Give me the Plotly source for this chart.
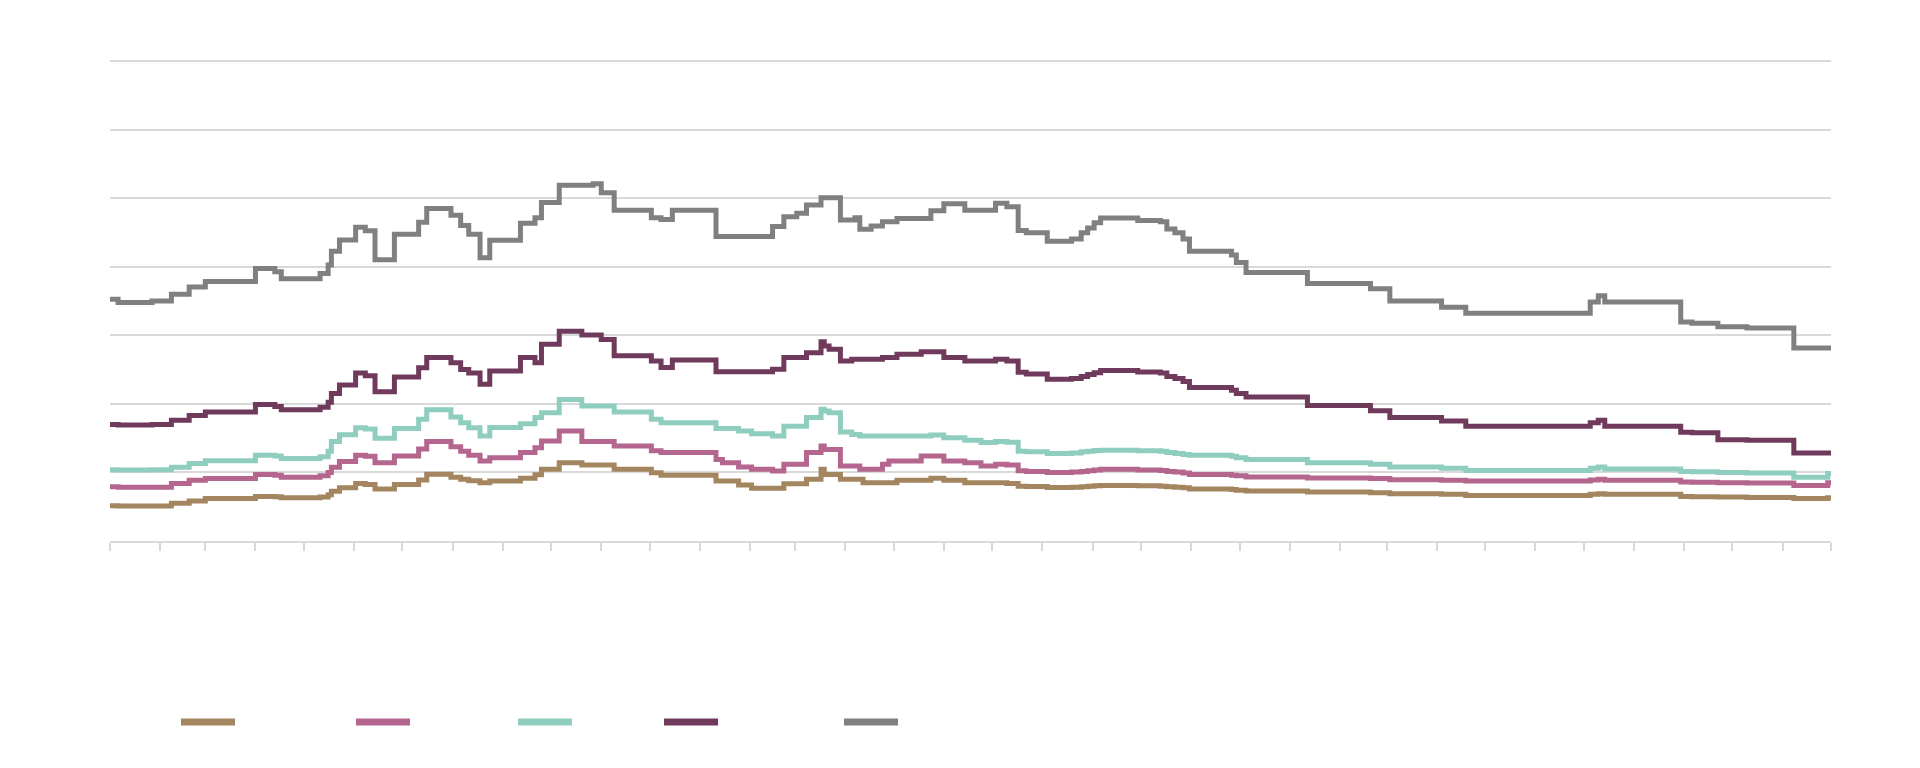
import plotly.graph_objects as go

# dates on which any tranche spread changed (bps, step series)
dates = [
    "2021-12-31", "2022-01-06", "2022-01-27", "2022-02-08", "2022-02-19", "2022-03-01",
    "2022-04-01", "2022-04-13", "2022-04-17", "2022-05-11", "2022-05-16", "2022-05-18",
    "2022-05-23", "2022-06-02", "2022-06-08", "2022-06-14", "2022-06-26", "2022-07-11",
    "2022-07-16", "2022-07-31", "2022-08-06", "2022-08-11", "2022-08-18",
    "2022-08-24", "2022-09-12", "2022-09-21", "2022-09-25", "2022-10-06", "2022-10-20",
    "2022-10-27", "2022-11-01", "2022-11-09", "2022-12-02", "2022-12-08", "2022-12-15",
    "2023-01-11", "2023-01-15", "2023-01-25", "2023-02-02", "2023-02-15", "2023-02-22",
    "2023-03-02", "2023-03-08", "2023-03-17", "2023-03-19", "2023-03-22", "2023-03-29",
    "2023-04-05", "2023-04-07", "2023-04-10", "2023-04-12", "2023-04-17", "2023-04-24",
    "2023-04-28", "2023-05-03", "2023-05-18", "2023-05-24", "2023-06-01", "2023-06-14",
    "2023-06-24", "2023-07-03", "2023-07-10", "2023-07-17", "2023-07-22", "2023-08-04",
    "2023-08-19", "2023-08-25", "2023-08-29", "2023-09-02", "2023-09-06", "2023-09-29",
    "2023-10-13", "2023-10-17", "2023-10-22", "2023-10-27", "2023-10-31", "2023-11-26",
    "2023-11-29", "2023-12-05", "2024-01-12", "2024-02-20", "2024-03-03", "2024-04-04",
    "2024-04-19", "2024-07-05", "2024-07-10", "2024-07-14", "2024-08-30", "2024-09-06",
    "2024-09-22", "2024-10-10", "2024-11-08", "2024-11-29", "2024-12-06",
]

bb = [
    705, 696, 700, 720, 741, 757,
    795, 785, 765, 780, 805, 845,
    878, 915, 905, 820, 895, 930,
    970, 950, 920, 895, 826,
    877, 927, 943, 987, 1038, 1038,
    1042, 1016, 965, 943, 938, 965,
    888, 888, 888, 888, 917, 946,
    956, 980, 1001, 1001, 1001, 936,
    936, 943, 909, 909, 919, 931,
    931, 941, 941, 963, 984, 965,
    965, 985, 975, 906, 899, 874,
    881, 899, 913, 928, 942, 935,
    931, 910, 899, 881, 845, 834,
    812, 783, 751, 736, 700, 682,
    664, 697, 715, 697, 639, 635,
    625, 621, 563, 563, 563,
]

bbb = [
    340, 338, 340, 352, 366, 376,
    398, 392, 383, 390, 405, 430,
    455, 490, 482, 435, 478, 505,
    535, 520, 500, 490, 457,
    496, 535, 520, 574, 612, 601,
    601, 588, 540, 525, 506, 528,
    494, 494, 494, 494, 501, 535,
    535, 549, 581, 569, 559, 525,
    530, 530, 530, 530, 530, 535,
    535, 545, 552, 552, 535, 525,
    525, 530, 525, 492, 487, 472,
    474, 480, 486, 491, 497, 493,
    490, 480, 474, 465, 448, 440,
    430, 420, 395, 380, 360, 350,
    335, 345, 352, 335, 317, 316,
    295, 294, 257, 257, 257,
]

a = [
    208, 207, 208, 215, 226, 234,
    250, 248, 241, 246, 262, 290,
    310, 330, 327, 300, 328, 355,
    383, 362, 345, 330, 306,
    331, 342, 360, 374, 413, 394,
    394, 394, 376, 355, 345, 345,
    328, 328, 321, 313, 306, 335,
    335, 360, 384, 379, 374, 318,
    311, 311, 306, 306, 306, 306,
    306, 306, 306, 309, 301, 294,
    287, 290, 288, 262, 260, 255,
    257, 260, 262, 264, 265, 263,
    262, 258, 255, 252, 250, 247,
    243, 238, 228, 224, 216, 212,
    206, 212, 216, 210, 203, 202,
    200, 198, 186, 197, 197,
]

aa = [
    158, 157, 157, 168, 177, 182,
    194, 192, 186, 190, 200, 215,
    232, 250, 247, 228, 248, 268,
    290, 275, 262, 250, 233,
    243, 258, 272, 292, 321, 290,
    290, 290, 277, 263, 258, 258,
    238, 228, 216, 209, 204, 224,
    224, 258, 277, 267, 267, 219,
    219, 219, 209, 209, 209, 224,
    233, 233, 248, 248, 233, 228,
    219, 224, 222, 205, 203, 200,
    201, 203, 205, 207, 209, 207,
    206, 203, 201, 198, 194, 192,
    190, 187, 184, 182, 179, 177,
    175, 178, 180, 177, 172, 171,
    170, 169, 162, 170, 170,
]

aaa = [
    103, 102, 102, 110, 117, 124,
    130, 129, 126, 128, 135, 145,
    155, 168, 165, 152, 165, 178,
    195, 186, 180, 176, 170,
    175, 183, 193, 209, 228, 222,
    222, 222, 209, 199, 192, 192,
    175, 175, 163, 154, 154, 167,
    167, 180, 209, 194, 194, 180,
    180, 180, 180, 170, 170, 170,
    170, 177, 177, 183, 177, 170,
    170, 170, 168, 160, 159, 156,
    157, 158, 160, 161, 162, 161,
    160, 158, 157, 155, 152, 150,
    148, 146, 143, 141, 138, 136,
    133, 136, 138, 136, 130, 129,
    128, 127, 124, 126, 126,
]

series = [
    ("AAA", aaa, "#A3865F"),
    ("AA", aa, "#B5668F"),
    ("A", a, "#8FCDBF"),
    ("BBB", bbb, "#6F3A5B"),
    ("BB", bb, "#808080"),
]

GRID = "#D9D9D9"
WHITE = "#FFFFFF"
W, H = 1920, 768
L, R, T, B = 102, 97, 52, 235

fig = go.Figure()
for name, vals, color in series:
    fig.add_trace(go.Scatter(
        x=dates, y=vals, name=name, mode="lines",
        line=dict(color=color, width=5, shape="hv"),
        hovertemplate="%{x|%d %b %Y}<br>" + name + ": %{y} bps<extra></extra>",
    ))

# legend row drawn by hand so the swatches are long and spaced like the original
def px_x(x):
    return (x - L) / (W - L - R)

def px_y(y):
    return (H - B - y) / (H - T - B)

legend_x = [173, 348, 510, 656, 836]
legend_y = 714
for (name, _, color), x0 in zip(series, legend_x):
    fig.add_shape(type="line", xref="paper", yref="paper",
                  x0=px_x(x0), x1=px_x(x0 + 54), y0=px_y(legend_y), y1=px_y(legend_y),
                  line=dict(color=color, width=7))
    fig.add_annotation(text="<b>" + name + "</b>", xref="paper", yref="paper",
                       x=px_x(x0 + 60), y=px_y(legend_y), xanchor="left", yanchor="middle",
                       showarrow=False, font=dict(size=20, color=WHITE))

fig.update_layout(
    width=W, height=H,
    paper_bgcolor="white", plot_bgcolor="white",
    font=dict(family="Liberation Sans, Arial, sans-serif", color=WHITE, size=18),
    margin=dict(l=L, r=R, t=T, b=B),
    title=dict(text="<b>USD CLO 2.0 Spreads</b>", x=0.484, xanchor="center",
               y=0.875, yanchor="middle", yref="container",
               font=dict(size=43, color=WHITE)),
    showlegend=False,
    xaxis=dict(
        type="date", range=["2022-01-01", "2024-12-01"],
        tick0="2022-01-01", dtick="M1", tickformat="%b-%y", tickangle=-45,
        showgrid=False, showline=True, linecolor=GRID, linewidth=1.5,
        ticks="outside", ticklen=8, tickwidth=1.5, tickcolor=GRID,
        tickfont=dict(size=18, color=WHITE), automargin=False,
    ),
    yaxis=dict(
        range=[0, 1403], tick0=0, dtick=200, showgrid=True, gridcolor=GRID, gridwidth=1.5,
        zeroline=False, showline=False, tickfont=dict(size=20, color=WHITE),
        ticklabelstandoff=20, automargin=False,
    ),
    hovermode="x unified",
)

fig.write_html("out.html")
